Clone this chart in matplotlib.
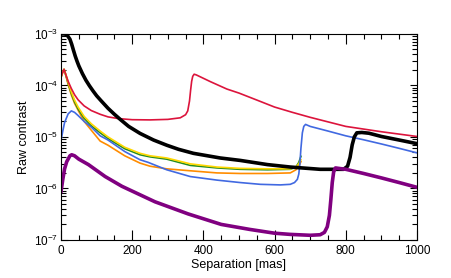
import matplotlib
matplotlib.use("Agg")
import matplotlib.pyplot as plt
from matplotlib.ticker import MultipleLocator, LogLocator, NullFormatter

plt.rcParams['font.family'] = ['Liberation Sans', 'DejaVu Sans']
plt.rcParams['mathtext.default'] = 'regular'

# separations [mas] and raw contrast
sep_black = [0, 10, 17, 25, 30, 35, 40, 45, 50, 60, 70, 80, 90, 100, 113, 132, 150, 166, 190, 222,
             260, 297, 330, 372, 447, 503, 580, 644, 728, 794, 805, 812, 818, 824, 831, 845, 865,
             900, 950, 1000]
c_black = [1e-3, 1e-3, 9.5e-4, 7.9e-4, 6.3e-4, 4.8e-4, 3.7e-4, 2.95e-4, 2.4e-4, 1.7e-4, 1.26e-4,
           9.8e-5, 7.8e-5, 6.3e-5, 5e-5, 3.6e-5, 2.75e-5, 2.2e-5, 1.6e-5, 1.17e-5, 8.7e-6, 6.9e-6,
           5.75e-6, 4.8e-6, 3.9e-6, 3.5e-6, 2.9e-6, 2.6e-6, 2.35e-6, 2.35e-6, 2.7e-6, 4e-6, 7e-6,
           1e-5, 1.2e-5, 1.22e-5, 1.18e-5, 1.02e-5, 8.7e-6, 7.4e-6]

sep_red = [0, 4, 8.5, 14, 20, 29, 38, 48, 65, 85, 110, 132, 161, 200, 250, 300, 335, 350, 356,
           361, 364, 367, 370, 374, 380, 420, 466, 500, 550, 600, 650, 700, 800, 900, 1000]
c_red = [1.45e-4, 1.75e-4, 2.05e-4, 1.58e-4, 1.2e-4, 8.7e-5, 6.6e-5, 5.25e-5, 4e-5, 3.25e-5,
         2.75e-5, 2.45e-5, 2.27e-5, 2.16e-5, 2.14e-5, 2.19e-5, 2.35e-5, 2.7e-5, 3.2e-5, 5e-5, 8e-5,
         1.2e-4, 1.5e-4, 1.65e-4, 1.6e-4, 1.18e-4, 8.5e-5, 7.1e-5, 5.2e-5, 3.8e-5, 3.0e-5, 2.4e-5,
         1.6e-5, 1.26e-5, 1.02e-5]

sep_mid = [0, 4, 8.5, 14, 20, 29, 38, 48, 65, 85, 110, 132, 179, 222, 250, 297, 363, 438, 503,
           580, 644, 660, 668, 674]
c_yellow = [1.45e-4, 1.75e-4, 2.05e-4, 1.6e-4, 1.15e-4, 7.5e-5, 5.2e-5, 3.8e-5, 2.5e-5, 1.8e-5,
            1.3e-5, 1.0e-5, 6.3e-6, 4.8e-6, 4.3e-6, 3.9e-6, 3.0e-6, 2.6e-6, 2.45e-6, 2.4e-6,
            2.4e-6, 2.6e-6, 3e-6, 3.6e-6]
c_green = [1.45e-4, 1.75e-4, 2.05e-4, 1.55e-4, 1.1e-4, 7e-5, 4.8e-5, 3.5e-5, 2.3e-5, 1.65e-5,
           1.2e-5, 9.3e-6, 5.9e-6, 4.5e-6, 4.1e-6, 3.7e-6, 2.8e-6, 2.5e-6, 2.35e-6, 2.3e-6,
           2.35e-6, 2.6e-6, 3.2e-6, 4.2e-6]
c_orange = [1.45e-4, 1.75e-4, 2.05e-4, 1.5e-4, 1.05e-4, 6.5e-5, 4.5e-5, 3.3e-5, 2e-5, 1.35e-5,
            8.3e-6, 6.9e-6, 4.3e-6, 3.1e-6, 2.7e-6, 2.4e-6, 2.2e-6, 2.0e-6, 1.95e-6, 1.95e-6,
            2.0e-6, 2.3e-6, 2.7e-6, 3.3e-6]

sep_blue = [0, 5, 10, 20, 29, 38, 48, 65, 85, 110, 132, 179, 222, 245, 297, 363, 438, 503, 560,
            616, 644, 656, 664, 668, 671, 674, 678, 682, 687, 700, 750, 800, 850, 900, 950, 1000]
c_blue = [8.5e-6, 1.3e-5, 1.9e-5, 2.8e-5, 3.2e-5, 3.0e-5, 2.6e-5, 2e-5, 1.55e-5, 1.05e-5, 8.7e-6,
          5.2e-6, 3.6e-6, 3.2e-6, 2.3e-6, 1.7e-6, 1.45e-6, 1.3e-6, 1.2e-6, 1.17e-6, 1.2e-6, 1.3e-6,
          1.5e-6, 1.9e-6, 3e-6, 6e-6, 1.2e-5, 1.6e-5, 1.75e-5, 1.6e-5, 1.3e-5, 1.05e-5, 8.8e-6,
          7.3e-6, 6e-6, 4.9e-6]

sep_purple = [0, 5, 10, 16, 25, 30, 38, 50, 77, 124, 171, 264, 357, 450, 530, 600, 644, 700, 728,
              740, 748, 754, 758, 762, 766, 771, 780, 800, 850, 900, 950, 1000]
c_purple = [8.7e-7, 1.5e-6, 2.4e-6, 3.3e-6, 4.3e-6, 4.5e-6, 4.3e-6, 3.7e-6, 2.9e-6, 1.7e-6, 1.1e-6,
            5.5e-7, 3.2e-7, 2.0e-7, 1.6e-7, 1.35e-7, 1.28e-7, 1.23e-7, 1.26e-7, 1.4e-7, 1.8e-7,
            3e-7, 6e-7, 1.3e-6, 2.1e-6, 2.5e-6, 2.45e-6, 2.35e-6, 1.95e-6, 1.6e-6, 1.3e-6, 1.05e-6]

fig = plt.figure(figsize=(4.52, 2.78), dpi=100)
ax = fig.add_axes([0.135, 0.137, 0.7875, 0.741])

ax.plot(sep_mid, c_orange, color='#ff8c00', lw=1.2)
ax.plot(sep_mid, c_green, color='#228b22', lw=1.2)
ax.plot(sep_mid, c_yellow, color='#ffd700', lw=1.2)
ax.plot(sep_blue, c_blue, color='#4169e1', lw=1.2)
ax.plot(sep_red, c_red, color='#dc143c', lw=1.2)
ax.plot(sep_black, c_black, color='black', lw=2.6)
ax.plot(sep_purple, c_purple, color='#800080', lw=2.6)

ax.set_yscale('log')
ax.set_xlim(0, 1000)
ax.set_ylim(1e-7, 1e-3)
ax.xaxis.set_major_locator(MultipleLocator(200))
ax.xaxis.set_minor_locator(MultipleLocator(50))
ax.yaxis.set_minor_locator(LogLocator(base=10, subs=range(2, 10)))
ax.yaxis.set_minor_formatter(NullFormatter())

ax.tick_params(which='both', direction='in', top=True, right=True, labelsize=8.5, width=0.8)
ax.tick_params(axis='x', which='major', length=7, pad=4)
ax.tick_params(axis='x', which='minor', length=3.5)
ax.tick_params(axis='y', which='major', length=5, pad=2)
ax.tick_params(axis='y', which='minor', length=3.5)

ax.set_xlabel('Separation [mas]', fontsize=9, labelpad=1)
ax.set_ylabel('Raw contrast', fontsize=9, labelpad=3)

fig.savefig('out.png', dpi=100)
